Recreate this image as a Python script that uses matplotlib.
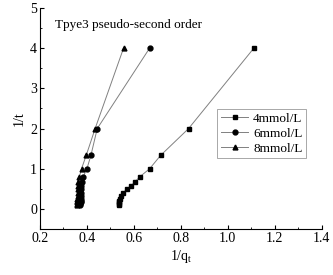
import matplotlib
matplotlib.use("Agg")
import matplotlib.pyplot as plt
from matplotlib.ticker import MultipleLocator

plt.rcParams['font.family'] = ['Liberation Serif', 'DejaVu Serif']
plt.rcParams['mathtext.fontset'] = 'custom'
plt.rcParams['mathtext.rm'] = 'Liberation Serif'
plt.rcParams['mathtext.it'] = 'Liberation Serif'

inv_t = [4, 2, 1.333, 1, 0.8, 0.667, 0.571, 0.5, 0.4, 0.333, 0.25, 0.2, 0.167, 0.125, 0.1]
inv_q_4 = [1.111, 0.833, 0.714, 0.667, 0.625, 0.604, 0.587, 0.570, 0.555, 0.545, 0.540, 0.538, 0.537, 0.537, 0.537]
inv_q_6 = [0.667, 0.444, 0.417, 0.400, 0.384, 0.377, 0.376, 0.375, 0.374, 0.374, 0.373, 0.373, 0.373, 0.372, 0.372]
inv_q_8 = [0.556, 0.435, 0.397, 0.377, 0.368, 0.364, 0.362, 0.361, 0.360, 0.360, 0.359, 0.359, 0.358, 0.358, 0.358]
labels = ['4mmol/L', '6mmol/L', '8mmol/L']
markers = ['s', 'o', '^']

fig = plt.figure(figsize=(3.33, 2.75), dpi=100)
ax = fig.add_axes([0.120, 0.167, 0.846, 0.804])

for xs, lab, m in zip([inv_q_4, inv_q_6, inv_q_8], labels, markers):
    ax.plot(xs, inv_t, color='#808080', lw=0.7, marker=m, markersize=3.5,
            markerfacecolor='black', markeredgecolor='black', label=lab)

ax.set_xlim(0.2, 1.4)
ax.set_ylim(-0.5, 5)
ax.xaxis.set_major_locator(MultipleLocator(0.2))
ax.xaxis.set_minor_locator(MultipleLocator(0.1))
ax.yaxis.set_major_locator(MultipleLocator(1))
ax.yaxis.set_minor_locator(MultipleLocator(0.5))
ax.xaxis.set_major_formatter(matplotlib.ticker.FormatStrFormatter('%.1f'))
ax.spines['top'].set_visible(False)
ax.spines['right'].set_visible(False)
for s in ['left', 'bottom']:
    ax.spines[s].set_linewidth(0.8)
ax.tick_params(which='major', direction='in', length=3, width=0.8, labelsize=10, pad=2)
ax.tick_params(which='minor', direction='in', length=1.5, width=0.6)

ax.set_xlabel('1/q$_\\mathrm{t}$', fontsize=10, labelpad=2)
ax.set_ylabel('1/t', fontsize=10, labelpad=3)
ax.text(0.264, 4.58, 'Tpye3 pseudo-second order', fontsize=9.5, va='center', ha='left')

leg = ax.legend(loc='upper left', bbox_to_anchor=(0.63, 0.545), fontsize=9.5,
                frameon=True, fancybox=False, edgecolor='#808080', handlelength=2.0,
                borderpad=0.3, labelspacing=0.2, handletextpad=0.4, borderaxespad=0)
leg.get_frame().set_linewidth(0.6)

fig.savefig('out.png', dpi=100)
